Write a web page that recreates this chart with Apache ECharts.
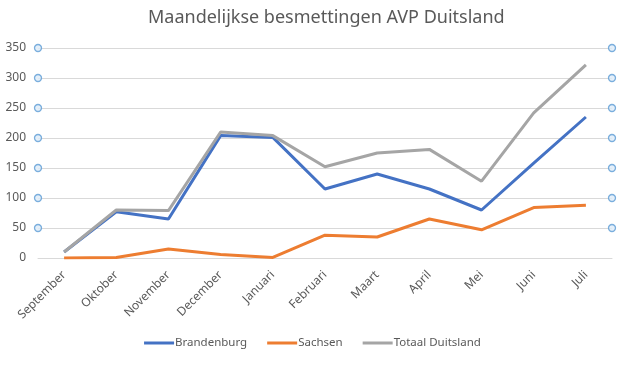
<!DOCTYPE html>
<html>
<head>
<meta charset="utf-8">
<script src="https://cdn.jsdelivr.net/npm/echarts@6/dist/echarts.min.js"></script>
<style>html,body{margin:0;padding:0;background:#fff}#c{width:625px;height:378px}</style>
</head>
<body>
<div id="c"></div>
<script>
const titleText = 'Maandelijkse besmettingen AVP Duitsland';
const months = ['September','Oktober','November','December','Januari','Februari','Maart','April','Mei','Juni','Juli'];
const brandenburg = [10, 77, 65, 204, 201, 115, 140, 115, 80, 158, 235];
const sachsen = [0, 1, 15, 6, 1, 38, 35, 65, 47, 84, 88];
const totaal = [10, 80, 79, 210, 204, 152, 175, 181, 128, 242, 322];
const yTicks = [0, 50, 100, 150, 200, 250, 300, 350];

// handle markers at both ends of each gridline (except 0)
const handles = [];
yTicks.slice(1).forEach(v => { handles.push([0, v]); handles.push([1, v]); });

const font = '"Noto Sans", "Open Sans", sans-serif';
const chart = echarts.init(document.getElementById('c'), null, {renderer: 'canvas'});
chart.setOption({
  animation: false,
  backgroundColor: '#ffffff',
  title: {
    text: titleText, left: 143, top: 4,
    textStyle: {fontFamily: font, fontSize: 18, fontWeight: 'normal', color: '#595959'}
  },
  legend: {
    bottom: 24, left: 'center', itemGap: 20, itemWidth: 30, itemHeight: 3, icon: 'rect',
    data: ['Brandenburg', 'Sachsen', 'Totaal Duitsland'],
    textStyle: {fontFamily: font, fontSize: 11.5, color: '#595959', padding: [0, 0, 0, -4]}
  },
  grid: {left: 38, right: 13, top: 48, bottom: 120, containLabel: false},
  xAxis: [{
    type: 'category', data: months, boundaryGap: true,
    axisLine: {lineStyle: {color: '#D9D9D9', width: 1}},
    axisTick: {show: false},
    axisLabel: {rotate: 45, interval: 0, margin: 15, color: '#595959', fontFamily: font, fontSize: 12}
  }, {
    type: 'value', min: 0, max: 1, show: false
  }],
  yAxis: {
    type: 'value', min: yTicks[0], max: yTicks[yTicks.length - 1], interval: 50,
    axisLine: {show: false}, axisTick: {show: false},
    splitLine: {lineStyle: {color: '#D9D9D9', width: 1}},
    axisLabel: {margin: 12, color: '#595959', fontFamily: font, fontSize: 12}
  },
  series: [
    {
      name: 'Brandenburg', type: 'line', data: brandenburg, showSymbol: false,
      lineStyle: {color: '#4472C4', width: 3}, itemStyle: {color: '#4472C4'}, z: 2
    },
    {
      name: 'Sachsen', type: 'line', data: sachsen, showSymbol: false,
      lineStyle: {color: '#ED7D31', width: 3}, itemStyle: {color: '#ED7D31'}, z: 3
    },
    {
      name: 'Totaal Duitsland', type: 'line', data: totaal, showSymbol: false,
      lineStyle: {color: '#A5A5A5', width: 3}, itemStyle: {color: '#A5A5A5'}, z: 4
    },
    {
      name: 'handles', type: 'scatter', xAxisIndex: 1, data: handles, clip: false,
      symbol: 'circle', symbolSize: 7, silent: true, z: 5,
      itemStyle: {color: '#DDEBF7', borderColor: '#5B9BD5', borderWidth: 1.3}
    }
  ]
});
</script>
</body>
</html>
